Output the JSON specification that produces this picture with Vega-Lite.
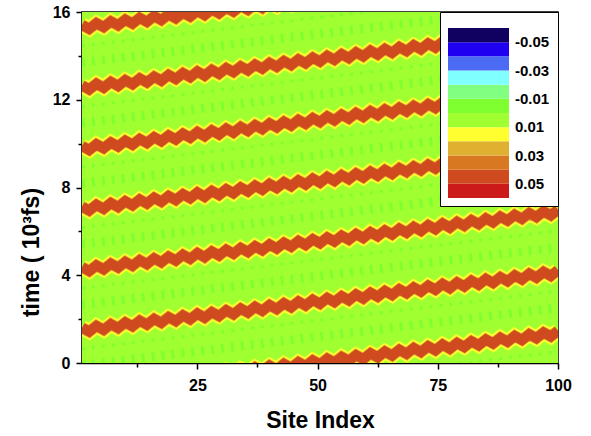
{
  "$schema": "https://vega.github.io/schema/vega-lite/v6.json",
  "width": 476,
  "height": 351,
  "autosize": {"type": "none"},
  "padding": {"left": 82, "top": 12, "right": 33, "bottom": 73},
  "background": "white",
  "config": {
    "view": {"stroke": "black", "strokeWidth": 1.5},
    "font": "Liberation Sans",
    "axis": {
      "domainColor": "black", "domainWidth": 1.5, "tickColor": "black", "tickWidth": 1.5,
      "labelFont": "Liberation Sans", "labelFontWeight": "bold", "labelFontSize": 16, "labelColor": "black",
      "titleFont": "Liberation Sans", "titleFontWeight": "bold", "titleColor": "black", "grid": false
    }
  },
  "datasets": {
    "bg": [{"minus_amp": -0.005}],
    "spots": [
      {"row": "tall", "g": "t0", "x": 1, "y": -0.10}, {"row": "tall", "g": "t0", "x": 100, "y": 2.52},
      {"row": "tall", "g": "t1", "x": 1, "y": 2.66}, {"row": "tall", "g": "t1", "x": 100, "y": 5.28},
      {"row": "tall", "g": "t2", "x": 1, "y": 5.42}, {"row": "tall", "g": "t2", "x": 100, "y": 8.04},
      {"row": "tall", "g": "t3", "x": 1, "y": 8.18}, {"row": "tall", "g": "t3", "x": 100, "y": 10.80},
      {"row": "tall", "g": "t4", "x": 1, "y": 10.94}, {"row": "tall", "g": "t4", "x": 100, "y": 13.56},
      {"row": "tall", "g": "t5", "x": 1, "y": 13.70}, {"row": "tall", "g": "t5", "x": 100, "y": 16.32},
      {"row": "small", "g": "s9", "x": 1, "y": -2.11}, {"row": "small", "g": "s9", "x": 100, "y": 0.51},
      {"row": "small", "g": "s0", "x": 1, "y": 0.65}, {"row": "small", "g": "s0", "x": 100, "y": 3.27},
      {"row": "small", "g": "s1", "x": 1, "y": 3.41}, {"row": "small", "g": "s1", "x": 100, "y": 6.03},
      {"row": "small", "g": "s2", "x": 1, "y": 6.17}, {"row": "small", "g": "s2", "x": 100, "y": 8.79},
      {"row": "small", "g": "s3", "x": 1, "y": 8.93}, {"row": "small", "g": "s3", "x": 100, "y": 11.55},
      {"row": "small", "g": "s4", "x": 1, "y": 11.69}, {"row": "small", "g": "s4", "x": 100, "y": 14.31},
      {"row": "small", "g": "s5", "x": 1, "y": 14.45}, {"row": "small", "g": "s5", "x": 100, "y": 17.07}
    ],
    "bands": [
      {"x": 1, "a": -1.15, "b": 1.61, "c": 4.37, "d": 7.13, "e": 9.89, "f": 12.65, "g": 15.41},
      {"x": 2.5, "a": -1.33, "b": 1.43, "c": 4.19, "d": 6.95, "e": 9.71, "f": 12.47, "g": 15.23},
      {"x": 4, "a": -1.07, "b": 1.69, "c": 4.45, "d": 7.21, "e": 9.97, "f": 12.73, "g": 15.49},
      {"x": 5.5, "a": -1.25, "b": 1.51, "c": 4.27, "d": 7.03, "e": 9.79, "f": 12.55, "g": 15.31},
      {"x": 7, "a": -0.99, "b": 1.77, "c": 4.53, "d": 7.29, "e": 10.05, "f": 12.81, "g": 15.57},
      {"x": 8.5, "a": -1.17, "b": 1.59, "c": 4.35, "d": 7.11, "e": 9.87, "f": 12.63, "g": 15.39},
      {"x": 10, "a": -0.91, "b": 1.85, "c": 4.61, "d": 7.37, "e": 10.13, "f": 12.89, "g": 15.65},
      {"x": 11.5, "a": -1.09, "b": 1.67, "c": 4.43, "d": 7.19, "e": 9.95, "f": 12.71, "g": 15.47},
      {"x": 13, "a": -0.83, "b": 1.93, "c": 4.69, "d": 7.45, "e": 10.21, "f": 12.97, "g": 15.73},
      {"x": 14.5, "a": -1.01, "b": 1.75, "c": 4.51, "d": 7.27, "e": 10.03, "f": 12.79, "g": 15.55},
      {"x": 16, "a": -0.75, "b": 2.01, "c": 4.77, "d": 7.53, "e": 10.29, "f": 13.05, "g": 15.81},
      {"x": 17.5, "a": -0.93, "b": 1.83, "c": 4.59, "d": 7.35, "e": 10.11, "f": 12.87, "g": 15.63},
      {"x": 19, "a": -0.67, "b": 2.09, "c": 4.85, "d": 7.61, "e": 10.37, "f": 13.13, "g": 15.89},
      {"x": 20.5, "a": -0.85, "b": 1.91, "c": 4.67, "d": 7.43, "e": 10.19, "f": 12.95, "g": 15.71},
      {"x": 22, "a": -0.59, "b": 2.17, "c": 4.93, "d": 7.69, "e": 10.45, "f": 13.21, "g": 15.97},
      {"x": 23.5, "a": -0.77, "b": 1.99, "c": 4.75, "d": 7.51, "e": 10.27, "f": 13.03, "g": 15.79},
      {"x": 25, "a": -0.51, "b": 2.25, "c": 5.01, "d": 7.77, "e": 10.53, "f": 13.29, "g": 16.05},
      {"x": 26.5, "a": -0.70, "b": 2.06, "c": 4.82, "d": 7.58, "e": 10.34, "f": 13.10, "g": 15.86},
      {"x": 28, "a": -0.44, "b": 2.32, "c": 5.08, "d": 7.84, "e": 10.60, "f": 13.36, "g": 16.12},
      {"x": 29.5, "a": -0.62, "b": 2.14, "c": 4.90, "d": 7.66, "e": 10.42, "f": 13.18, "g": 15.94},
      {"x": 31, "a": -0.36, "b": 2.40, "c": 5.16, "d": 7.92, "e": 10.68, "f": 13.44, "g": 16.20},
      {"x": 32.5, "a": -0.54, "b": 2.22, "c": 4.98, "d": 7.74, "e": 10.50, "f": 13.26, "g": 16.02},
      {"x": 34, "a": -0.28, "b": 2.48, "c": 5.24, "d": 8.00, "e": 10.76, "f": 13.52, "g": 16.28},
      {"x": 35.5, "a": -0.46, "b": 2.30, "c": 5.06, "d": 7.82, "e": 10.58, "f": 13.34, "g": 16.10},
      {"x": 37, "a": -0.20, "b": 2.56, "c": 5.32, "d": 8.08, "e": 10.84, "f": 13.60, "g": 16.36},
      {"x": 38.5, "a": -0.38, "b": 2.38, "c": 5.14, "d": 7.90, "e": 10.66, "f": 13.42, "g": 16.18},
      {"x": 40, "a": -0.12, "b": 2.64, "c": 5.40, "d": 8.16, "e": 10.92, "f": 13.68, "g": 16.44},
      {"x": 41.5, "a": -0.30, "b": 2.46, "c": 5.22, "d": 7.98, "e": 10.74, "f": 13.50, "g": 16.26},
      {"x": 43, "a": -0.04, "b": 2.72, "c": 5.48, "d": 8.24, "e": 11.00, "f": 13.76, "g": 16.52},
      {"x": 44.5, "a": -0.22, "b": 2.54, "c": 5.30, "d": 8.06, "e": 10.82, "f": 13.58, "g": 16.34},
      {"x": 46, "a": 0.04, "b": 2.80, "c": 5.56, "d": 8.32, "e": 11.08, "f": 13.84, "g": 16.60},
      {"x": 47.5, "a": -0.14, "b": 2.62, "c": 5.38, "d": 8.14, "e": 10.90, "f": 13.66, "g": 16.42},
      {"x": 49, "a": 0.12, "b": 2.88, "c": 5.64, "d": 8.40, "e": 11.16, "f": 13.92, "g": 16.68},
      {"x": 50.5, "a": -0.06, "b": 2.70, "c": 5.46, "d": 8.22, "e": 10.98, "f": 13.74, "g": 16.50},
      {"x": 52, "a": 0.20, "b": 2.96, "c": 5.72, "d": 8.48, "e": 11.24, "f": 14.00, "g": 16.76},
      {"x": 53.5, "a": 0.02, "b": 2.78, "c": 5.54, "d": 8.30, "e": 11.06, "f": 13.82, "g": 16.58},
      {"x": 55, "a": 0.28, "b": 3.04, "c": 5.80, "d": 8.56, "e": 11.32, "f": 14.08, "g": 16.84},
      {"x": 56.5, "a": 0.10, "b": 2.86, "c": 5.62, "d": 8.38, "e": 11.14, "f": 13.90, "g": 16.66},
      {"x": 58, "a": 0.36, "b": 3.12, "c": 5.88, "d": 8.64, "e": 11.40, "f": 14.16, "g": 16.92},
      {"x": 59.5, "a": 0.18, "b": 2.94, "c": 5.70, "d": 8.46, "e": 11.22, "f": 13.98, "g": 16.74},
      {"x": 61, "a": 0.44, "b": 3.20, "c": 5.96, "d": 8.72, "e": 11.48, "f": 14.24, "g": 17.00},
      {"x": 62.5, "a": 0.26, "b": 3.02, "c": 5.78, "d": 8.54, "e": 11.30, "f": 14.06, "g": 16.82},
      {"x": 64, "a": 0.52, "b": 3.28, "c": 6.04, "d": 8.80, "e": 11.56, "f": 14.32, "g": 17.08},
      {"x": 65.5, "a": 0.34, "b": 3.10, "c": 5.86, "d": 8.62, "e": 11.38, "f": 14.14, "g": 16.90},
      {"x": 67, "a": 0.60, "b": 3.36, "c": 6.12, "d": 8.88, "e": 11.64, "f": 14.40, "g": 17.16},
      {"x": 68.5, "a": 0.42, "b": 3.18, "c": 5.94, "d": 8.70, "e": 11.46, "f": 14.22, "g": 16.98},
      {"x": 70, "a": 0.68, "b": 3.44, "c": 6.20, "d": 8.96, "e": 11.72, "f": 14.48, "g": 17.24},
      {"x": 71.5, "a": 0.50, "b": 3.26, "c": 6.02, "d": 8.78, "e": 11.54, "f": 14.30, "g": 17.06},
      {"x": 73, "a": 0.76, "b": 3.52, "c": 6.28, "d": 9.04, "e": 11.80, "f": 14.56, "g": 17.32},
      {"x": 74.5, "a": 0.58, "b": 3.34, "c": 6.10, "d": 8.86, "e": 11.62, "f": 14.38, "g": 17.14},
      {"x": 76, "a": 0.84, "b": 3.60, "c": 6.36, "d": 9.12, "e": 11.88, "f": 14.64, "g": 17.40},
      {"x": 77.5, "a": 0.65, "b": 3.41, "c": 6.17, "d": 8.93, "e": 11.69, "f": 14.45, "g": 17.21},
      {"x": 79, "a": 0.91, "b": 3.67, "c": 6.43, "d": 9.19, "e": 11.95, "f": 14.71, "g": 17.47},
      {"x": 80.5, "a": 0.73, "b": 3.49, "c": 6.25, "d": 9.01, "e": 11.77, "f": 14.53, "g": 17.29},
      {"x": 82, "a": 0.99, "b": 3.75, "c": 6.51, "d": 9.27, "e": 12.03, "f": 14.79, "g": 17.55},
      {"x": 83.5, "a": 0.81, "b": 3.57, "c": 6.33, "d": 9.09, "e": 11.85, "f": 14.61, "g": 17.37},
      {"x": 85, "a": 1.07, "b": 3.83, "c": 6.59, "d": 9.35, "e": 12.11, "f": 14.87, "g": 17.63},
      {"x": 86.5, "a": 0.89, "b": 3.65, "c": 6.41, "d": 9.17, "e": 11.93, "f": 14.69, "g": 17.45},
      {"x": 88, "a": 1.15, "b": 3.91, "c": 6.67, "d": 9.43, "e": 12.19, "f": 14.95, "g": 17.71},
      {"x": 89.5, "a": 0.97, "b": 3.73, "c": 6.49, "d": 9.25, "e": 12.01, "f": 14.77, "g": 17.53},
      {"x": 91, "a": 1.23, "b": 3.99, "c": 6.75, "d": 9.51, "e": 12.27, "f": 15.03, "g": 17.79},
      {"x": 92.5, "a": 1.05, "b": 3.81, "c": 6.57, "d": 9.33, "e": 12.09, "f": 14.85, "g": 17.61},
      {"x": 94, "a": 1.31, "b": 4.07, "c": 6.83, "d": 9.59, "e": 12.35, "f": 15.11, "g": 17.87},
      {"x": 95.5, "a": 1.13, "b": 3.89, "c": 6.65, "d": 9.41, "e": 12.17, "f": 14.93, "g": 17.69},
      {"x": 97, "a": 1.39, "b": 4.15, "c": 6.91, "d": 9.67, "e": 12.43, "f": 15.19, "g": 17.95},
      {"x": 98.5, "a": 1.21, "b": 3.97, "c": 6.73, "d": 9.49, "e": 12.25, "f": 15.01, "g": 17.77},
      {"x": 100, "a": 1.47, "b": 4.23, "c": 6.99, "d": 9.75, "e": 12.51, "f": 15.27, "g": 18.03}
    ]
  },
  "encoding": {
    "x": {
      "type": "quantitative",
      "scale": {"domain": [1, 100], "nice": false, "zero": false},
      "axis": {
        "title": "Site Index", "titleFontSize": 23, "titleY": 64, "titleBaseline": "alphabetic",
        "values": [12.5, 25, 37.5, 50, 62.5, 75, 87.5, 100],
        "labelExpr": "datum.value % 25 === 0 ? datum.label : ''",
        "tickSize": {"condition": {"test": "datum.value % 25 === 0", "value": 6}, "value": 4},
        "labelPadding": 8, "labelFlush": false
      }
    },
    "y": {
      "type": "quantitative",
      "scale": {"domain": [0, 16], "nice": false, "zero": false},
      "axis": {
        "title": "time ( 10³fs)", "titleFontSize": 23, "titleX": -44, "titleY": 240,
        "titleAlign": "center", "titleBaseline": "alphabetic",
        "values": [0, 2, 4, 6, 8, 10, 12, 14, 16],
        "labelExpr": "datum.value % 4 === 0 ? datum.label : ''",
        "tickSize": {"condition": {"test": "datum.value % 4 === 0", "value": 6}, "value": 4},
        "labelPadding": 6, "labelFlush": false
      }
    }
  },
  "layer": [
    {
      "data": {"name": "bg"},
      "mark": {"type": "rect"},
      "encoding": {
        "x": {"datum": 1},
        "x2": {"datum": 100},
        "y": {"datum": 0},
        "y2": {"datum": 16},
        "color": {
          "field": "minus_amp", "type": "quantitative",
          "scale": {
            "type": "threshold",
            "domain": [-0.05, -0.04, -0.03, -0.02, -0.01, 0, 0.01, 0.02, 0.03, 0.04, 0.05],
            "range": ["#cc1a1a", "#d04a20", "#d87820", "#e0b030", "#ffff30", "#a0ff30", "#80ff30", "#80ff80", "#80ffff", "#4b6bf5", "#2000f0", "#100060"]
          },
          "legend": {
            "type": "gradient", "direction": "vertical", "orient": "top-right", "offset": 0,
            "title": " ", "titleFontSize": 2, "titlePadding": 6,
            "labelExpr": "abs(round(datum.value * 100)) % 2 === 1 ? (datum.value > 0 ? '-' : '') + format(abs(datum.value), '.2f') : ''",
            "gradientLength": 170, "gradientThickness": 61, "gradientStrokeWidth": 0,
            "labelFont": "Liberation Sans", "labelFontWeight": "bold", "labelFontSize": 15, "labelColor": "black",
            "labelOffset": 6, "labelOverlap": false,
            "padding": 8, "fillColor": "white", "strokeColor": "black"
          }
        }
      }
    },
    {
      "data": {"name": "spots"},
      "transform": [{"filter": "datum.row === 'tall'"}],
      "mark": {"type": "line", "stroke": "#80ff30", "strokeWidth": 9, "strokeDash": [3, 7], "clip": true},
      "encoding": {"x": {"field": "x", "type": "quantitative"}, "y": {"field": "y", "type": "quantitative"}, "detail": {"field": "g"}}
    },
    {
      "data": {"name": "spots"},
      "transform": [{"filter": "datum.row === 'small'"}],
      "mark": {"type": "line", "stroke": "#80ff30", "strokeWidth": 3, "strokeDash": [3, 7], "clip": true},
      "encoding": {"x": {"field": "x", "type": "quantitative"}, "y": {"field": "y", "type": "quantitative"}, "detail": {"field": "g"}}
    },
    {
      "data": {"name": "bands"},
      "transform": [{"fold": ["a", "b", "c", "d", "e", "f", "g"], "as": ["band", "t"]}],
      "mark": {"type": "line", "stroke": "#ffff30", "strokeWidth": 15, "strokeJoin": "miter", "clip": true},
      "encoding": {"x": {"field": "x", "type": "quantitative"}, "y": {"field": "t", "type": "quantitative"}, "detail": {"field": "band"}}
    },
    {
      "data": {"name": "bands"},
      "transform": [{"fold": ["a", "b", "c", "d", "e", "f", "g"], "as": ["band", "t"]}],
      "mark": {"type": "line", "stroke": "#e0b030", "strokeWidth": 11.5, "strokeJoin": "miter", "clip": true},
      "encoding": {"x": {"field": "x", "type": "quantitative"}, "y": {"field": "t", "type": "quantitative"}, "detail": {"field": "band"}}
    },
    {
      "data": {"name": "bands"},
      "transform": [{"fold": ["a", "b", "c", "d", "e", "f", "g"], "as": ["band", "t"]}],
      "mark": {"type": "line", "stroke": "#d04a20", "strokeWidth": 10, "strokeJoin": "miter", "clip": true},
      "encoding": {"x": {"field": "x", "type": "quantitative"}, "y": {"field": "t", "type": "quantitative"}, "detail": {"field": "band"}}
    }
  ]
}
